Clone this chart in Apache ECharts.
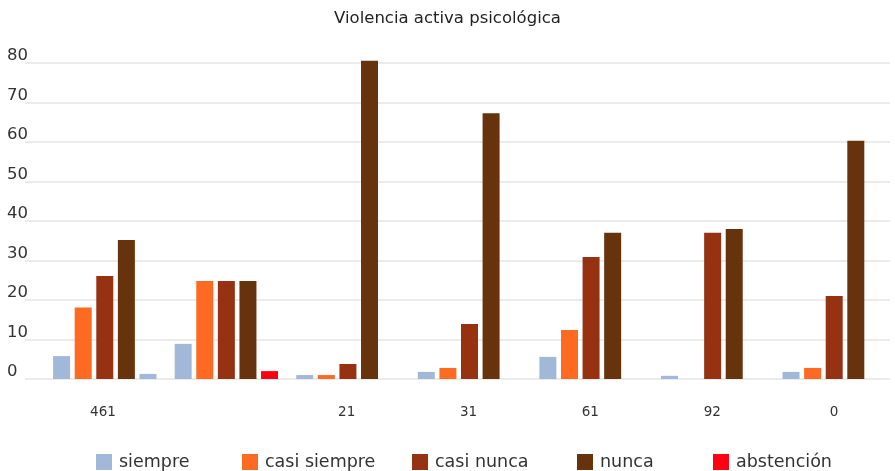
<!DOCTYPE html>
<html>
<head>
<meta charset="utf-8">
<script src="https://cdn.jsdelivr.net/npm/echarts@6/dist/echarts.min.js"></script>
<style>
html,body{margin:0;padding:0;background:#fff;}
#chart{width:895px;height:471px;}
</style>
</head>
<body>
<div id="chart"></div>
<script>
const categories = ['461', '', '21', '31', '61', '92', '0'];
const seriesNames = ['siempre', 'casi siempre', 'casi nunca', 'nunca', 'abstención'];
const siempre = [5.8, 8.9, 1.0, 1.8, 5.6, 0.8, 1.8];
const casiSiempre = [18.1, 24.8, 1.0, 2.8, 12.4, 0, 2.8];
const casiNunca = [26.1, 24.8, 3.8, 13.9, 30.9, 37.0, 21.0];
const nunca = [35.2, 24.8, 80.6, 67.3, 37.0, 38.0, 60.3];
const abstencion = [1.3, 2.0, 0, 0, 0, 0, 0];
const yTicks = [0, 10, 20, 30, 40, 50, 60, 70, 80];

const colors = ['#a2b8d8', '#ff6a22', '#963211', '#67330c', '#ff0012'];
const FONT = 'DejaVu Sans';

const values = [siempre, casiSiempre, casiNunca, nunca, abstencion];
const series = seriesNames.map((name, i) => ({
  name: name,
  type: 'bar',
  xAxisIndex: 1,
  yAxisIndex: 1,
  barWidth: 17,
  barGap: '27%',
  clip: false,
  itemStyle: { color: colors[i] },
  data: values[i].map((v, j) => {
    // first group's extra bar is drawn in the light-blue colour in the reference
    if (i === 4 && j === 0) return { value: v, itemStyle: { color: colors[0] } };
    return v;
  })
}));

const legendLefts = [96, 242, 412, 577, 713];
const legends = seriesNames.map((n, i) => ({
  data: [n],
  left: legendLefts[i],
  top: 453,
  padding: 0,
  icon: 'rect',
  itemWidth: 16,
  itemHeight: 16,
  selectedMode: false,
  textStyle: { fontFamily: FONT, fontSize: 17.5, color: '#333', padding: [0, 0, 0, 2] }
}));

const option = {
  animation: false,
  title: {
    text: 'Violencia activa psicológica',
    left: 'center',
    top: 5,
    textStyle: { fontFamily: FONT, fontSize: 16.5, fontWeight: 'normal', color: '#222' }
  },
  legend: legends,
  grid: [
    { left: 25, right: 5, top: 63, bottom: 92 },
    { left: 44, right: 0, top: 63, bottom: 92 },
    { left: 42, right: -15, top: 63, bottom: 92 }
  ],
  xAxis: [
    { gridIndex: 0, type: 'category', data: categories, show: false },
    { gridIndex: 1, type: 'category', data: categories,
      axisLine: { show: false }, axisTick: { show: false }, axisLabel: { show: false } },
    { gridIndex: 2, type: 'category', data: categories,
      axisLine: { show: false }, axisTick: { show: false },
      axisLabel: { fontFamily: FONT, fontSize: 13.5, color: '#333', margin: 26 } }
  ],
  yAxis: [
    { gridIndex: 0, type: 'value', min: yTicks[0], max: yTicks[yTicks.length - 1], interval: 10,
      axisLine: { show: false }, axisTick: { show: false },
      splitLine: { lineStyle: { color: '#e4e4e4', width: 1.5 } },
      axisLabel: { fontFamily: FONT, fontSize: 16.5, color: '#333', align: 'left', margin: 18,
                   verticalAlign: 'bottom', lineHeight: 14 } },
    { gridIndex: 1, type: 'value', min: 0, max: 80, interval: 10, show: false },
    { gridIndex: 2, type: 'value', min: 0, max: 80, interval: 10, show: false }
  ],
  series: series
};

const chart = echarts.init(document.getElementById('chart'), null, { renderer: 'canvas' });
chart.setOption(option);
</script>
</body>
</html>
